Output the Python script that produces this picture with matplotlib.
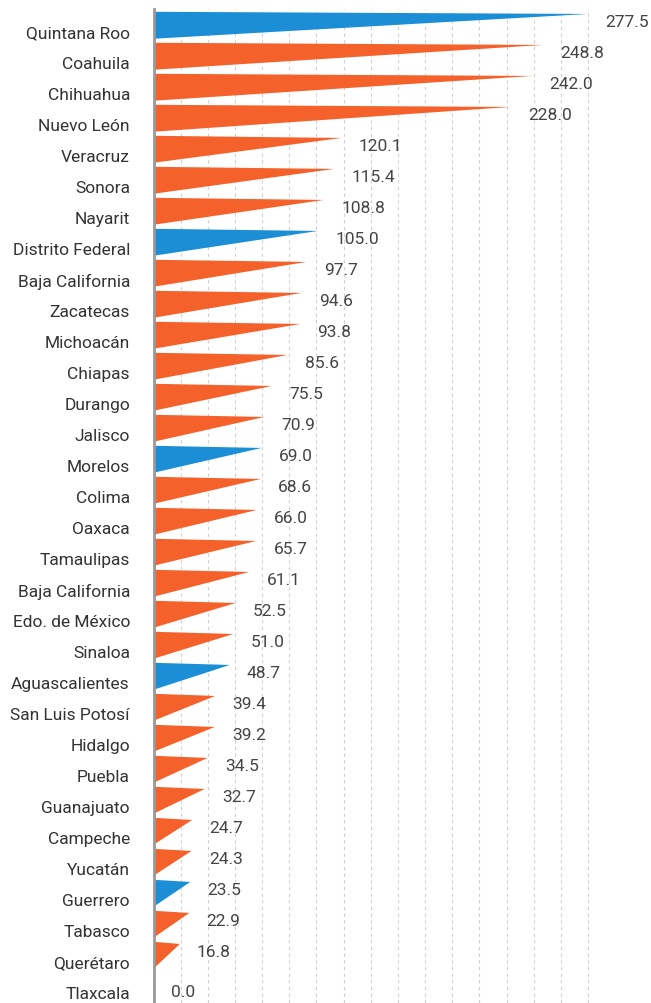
import numpy as np
import matplotlib.pyplot as plt
from matplotlib.patches import Polygon

states = ["Quintana Roo", "Coahuila", "Chihuahua", "Nuevo León", "Veracruz", "Sonora",
          "Nayarit", "Distrito Federal", "Baja California", "Zacatecas", "Michoacán",
          "Chiapas", "Durango", "Jalisco", "Morelos", "Colima", "Oaxaca", "Tamaulipas",
          "Baja California", "Edo. de México", "Sinaloa", "Aguascalientes",
          "San Luis Potosí", "Hidalgo", "Puebla", "Guanajuato", "Campeche", "Yucatán",
          "Guerrero", "Tabasco", "Querétaro", "Tlaxcala"]
values = [277.5, 248.8, 242.0, 228.0, 120.1, 115.4, 108.8, 105.0, 97.7, 94.6, 93.8,
          85.6, 75.5, 70.9, 69.0, 68.6, 66.0, 65.7, 61.1, 52.5, 51.0, 48.7,
          39.4, 39.2, 34.5, 32.7, 24.7, 24.3, 23.5, 22.9, 16.8, 0.0]
highlight = ["Quintana Roo", "Distrito Federal", "Morelos", "Aguascalientes", "Guerrero"]

blue = "#1b8ed6"
orange = "#f4612a"
font = ["Roboto", "DejaVu Sans"]

fig = plt.figure(figsize=(6.51, 10.04), dpi=100)
ax = fig.add_axes([153.5 / 651, 0, 1 - 153.5 / 651, 994 / 1004])

n = len(states)
vmax = max(values)
for i, (name, v) in enumerate(zip(states, values)):
    col = blue if name in highlight else orange
    # triangle: flat top edge, tapering to a point at the value
    tri = Polygon([(0, i - 0.62), (0, i + 0.25), (v, i - 0.55)], closed=True,
                  facecolor=col, edgecolor="none", zorder=3)
    ax.add_patch(tri)
    dy = -0.32 if v > 0 else 0
    ax.text(v + 11, i + dy, f"{v:.1f}", va="center", ha="left",
            fontsize=12.5, color="#444444", family=font, zorder=4)

ax.set_yticks(range(n))
ax.set_yticklabels(states, fontsize=12.5, color="#333333", family=font)
ax.tick_params(axis="y", length=0, pad=17)
ax.set_xticks(np.linspace(0, vmax, 17))
ax.tick_params(axis="x", length=0, labelbottom=False)
ax.grid(axis="x", color="#d0d0d0", linestyle=(0, (3, 3)), linewidth=0.8, zorder=0)

ax.set_xlim(0, (651 - 153.5) / 1.566)
ax.set_ylim((1004 - 32) / 31, -22 / 31)

for s in ["top", "right", "bottom"]:
    ax.spines[s].set_visible(False)
ax.spines["left"].set_color("#999999")
ax.spines["left"].set_linewidth(2)
ax.spines["left"].set_zorder(5)

fig.savefig("out.png", dpi=100)
